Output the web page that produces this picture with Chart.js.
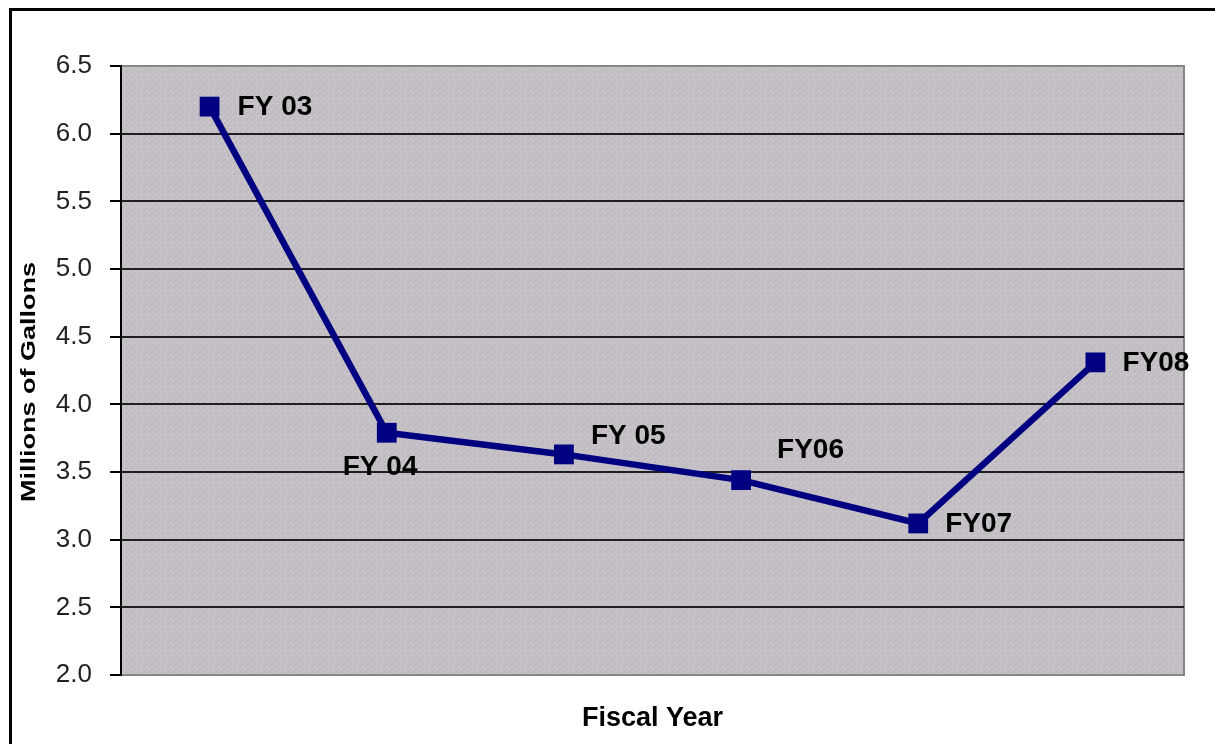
<!DOCTYPE html>
<html>
<head>
<meta charset="utf-8">
<script src="https://cdn.jsdelivr.net/npm/chart.js@4.4.1/dist/chart.umd.min.js"></script>
<style>
  html, body { margin: 0; padding: 0; background: #fff; overflow: hidden; }
  #wrap { position: relative; width: 1215px; height: 744px; }
  #wrap canvas { position: absolute; left: 0; top: 0; }
  #frame {
    position: absolute; left: 9px; top: 8px; width: 1300px; height: 800px;
    border-top: 3px solid #000; border-left: 3px solid #000; pointer-events: none;
  }
</style>
</head>
<body>
<div id="wrap">
  <canvas id="c" width="1215" height="744"></canvas>
  <div id="frame"></div>
</div>
<script>
// Fuel use by fiscal year, in millions of gallons
const fiscalYears = ['FY03', 'FY04', 'FY05', 'FY06', 'FY07', 'FY08'];
const pointLabels = ['FY 03', 'FY 04', 'FY 05', 'FY06', 'FY07', 'FY08'];
const gallonsMillions = [6.20, 3.79, 3.63, 3.44, 3.12, 4.31];
const yMin = 2.0, yMax = 6.5, yStep = 0.5;

// where each point's label sits relative to its marker (text left edge, middle)
const labelOffsets = [[28, 1], [-44, 35], [27, -18], [36, -30], [27, 1], [27, 1]];

const FONT = '"Liberation Sans", Arial, sans-serif';

// fine stippled grey fill for the plotting area
function grainPattern(ctx) {
  const n = 6;
  const t = document.createElement('canvas');
  t.width = n; t.height = n;
  const g = t.getContext('2d');
  for (let y = 0; y < n; y++) {
    for (let x = 0; x < n; x++) {
      const o = (((x * 7 + y * 13 + x * y * 3) % 5) - 2) * 4;
      g.fillStyle = `rgb(${195 + o},${191 + o},${197 + o})`;
      g.fillRect(x, y, 1, 1);
    }
  }
  return ctx.createPattern(t, 'repeat');
}

const plotBackground = {
  id: 'plotBackground',
  beforeDraw(chart) {
    const { ctx, chartArea: a } = chart;
    ctx.save();
    ctx.fillStyle = grainPattern(ctx);
    ctx.fillRect(a.left, a.top, a.right - a.left, a.bottom - a.top);
    ctx.strokeStyle = '#868686';
    ctx.lineWidth = 2;
    ctx.strokeRect(a.left, a.top, a.right - a.left, a.bottom - a.top);
    ctx.restore();
  }
};

const pointNames = {
  id: 'pointNames',
  afterDatasetsDraw(chart) {
    const { ctx } = chart;
    const meta = chart.getDatasetMeta(0);
    ctx.save();
    ctx.font = `bold 28px ${FONT}`;
    ctx.fillStyle = '#000';
    ctx.textAlign = 'left';
    ctx.textBaseline = 'middle';
    meta.data.forEach((p, i) => {
      const [dx, dy] = labelOffsets[i];
      ctx.fillText(pointLabels[i], p.x + dx, p.y + dy);
    });
    ctx.restore();
  }
};

const valueAxisTitle = {
  id: 'valueAxisTitle',
  afterDraw(chart) {
    const { ctx } = chart;
    ctx.save();
    ctx.translate(29.5, 382);
    ctx.rotate(-Math.PI / 2);
    ctx.scale(1.35, 1);
    ctx.font = `bold 20px ${FONT}`;
    ctx.fillStyle = '#000';
    ctx.textAlign = 'center';
    ctx.textBaseline = 'middle';
    ctx.fillText('Millions of Gallons', 0, 0);
    ctx.restore();
  }
};

new Chart(document.getElementById('c'), {
  type: 'line',
  data: {
    labels: fiscalYears,
    datasets: [{
      data: gallonsMillions,
      borderColor: '#000080',
      borderWidth: 6.5,
      tension: 0,
      pointStyle: 'rect',
      pointRadius: 14,
      pointHoverRadius: 14,
      pointBackgroundColor: '#000080',
      pointBorderColor: '#000080',
      pointBorderWidth: 0
    }]
  },
  options: {
    responsive: false,
    animation: false,
    devicePixelRatio: 1,
    layout: { padding: { left: 0, top: 66, right: 31, bottom: 0 } },
    plugins: { legend: { display: false }, tooltip: { enabled: false } },
    scales: {
      x: {
        type: 'category',
        offset: true,
        grid: { display: false },
        border: { display: false },
        ticks: { display: false },
        title: {
          display: true,
          text: 'Fiscal Year',
          color: '#000',
          font: { family: FONT, size: 27, weight: 'bold' },
          padding: { top: 0, bottom: 9 }
        },
        afterFit(s) { s.height = 69; }
      },
      y: {
        min: yMin,
        max: yMax,
        ticks: {
          stepSize: yStep,
          padding: 18,
          color: '#222',
          font: { family: FONT, size: 26 },
          callback: v => Number(v).toFixed(1)
        },
        grid: {
          drawTicks: true,
          tickLength: 11,
          lineWidth: 2,
          tickColor: '#000',
          color: c => (c.tick && (c.tick.value === yMin || c.tick.value === yMax)) ? 'rgba(0,0,0,0)' : '#1e1e1e'
        },
        border: { display: true, color: '#000', width: 2 },
        title: { display: false },
        afterFit(s) { s.width = 121; }
      }
    }
  },
  plugins: [plotBackground, pointNames, valueAxisTitle]
});
</script>
</body>
</html>
